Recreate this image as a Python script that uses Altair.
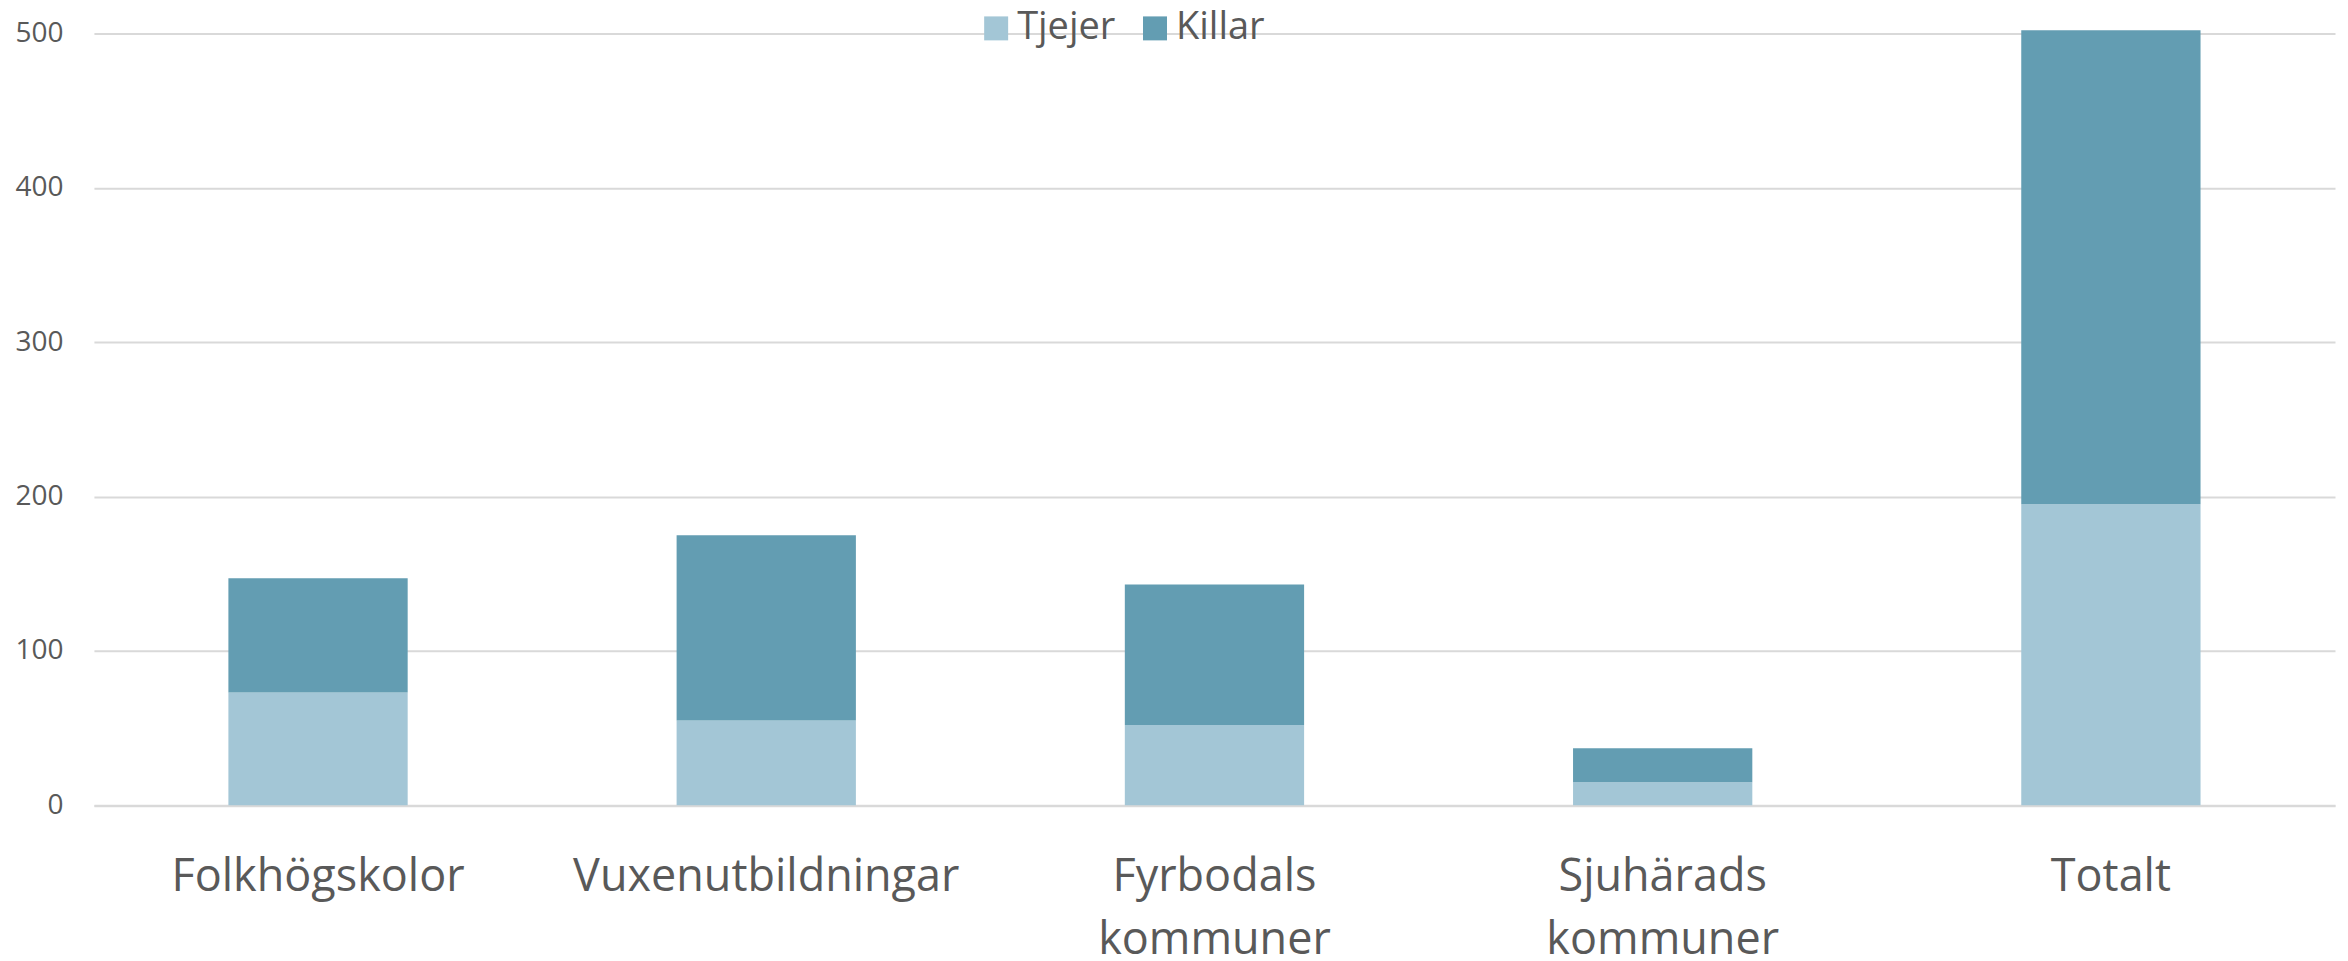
import altair as alt
import pandas as pd

categories = ["Folkhögskolor", "Vuxenutbildningar", "Fyrbodals\nkommuner", "Sjuhärads\nkommuner", "Totalt"]
series = ["Tjejer", "Killar"]
tjejer = [73, 55, 52, 15, 195]
killar = [74, 120, 91, 22, 307]
colors = ["#A3C6D6", "#639DB2"]
y_ticks = [0, 100, 200, 300, 400, 500]

rows = []
for c, t, k in zip(categories, tjejer, killar):
    rows.append({"kategori": c, "kon": "Tjejer", "antal": t, "ordning": 0})
    rows.append({"kategori": c, "kon": "Killar", "antal": k, "ordning": 1})
df = pd.DataFrame(rows)

FONT = "Open Sans"
GRAY = "#595959"

chart = alt.Chart(df).mark_bar(clip=False).encode(
    x=alt.X(
        "kategori:N",
        sort=categories,
        scale=alt.Scale(paddingInner=0.6, paddingOuter=0.3),
        axis=alt.Axis(
            title=None,
            labelAngle=0,
            labelFont=FONT,
            labelFontSize=45,
            labelColor=GRAY,
            labelPadding=49,
            labelLineHeight=63,
            labelLimit=1000,
            labelOverlap=False,
            labelExpr="split(datum.label, '\\n')",
            ticks=False,
            domainColor="#D9D9D9",
            domainWidth=2,
            grid=False,
        ),
    ),
    y=alt.Y(
        "antal:Q",
        stack="zero",
        scale=alt.Scale(domain=[0, 500], nice=False),
        axis=alt.Axis(
            title=None,
            values=y_ticks,
            labelFont=FONT,
            labelFontSize=28,
            labelColor=GRAY,
            labelPadding=31,
            ticks=False,
            domain=False,
            gridColor="#D9D9D9",
            gridWidth=2,
        ),
    ),
    color=alt.Color(
        "kon:N",
        scale=alt.Scale(domain=series, range=colors),
        legend=alt.Legend(
            title=None,
            orient="none",
            direction="horizontal",
            legendX=884,
            legendY=-24,
            symbolType="square",
            symbolSize=576,
            symbolStrokeWidth=0,
            labelFont=FONT,
            labelFontSize=38,
            labelColor=GRAY,
            labelOffset=2,
            columnPadding=20,
        ),
    ),
    order=alt.Order("ordning:Q", sort="ascending"),
).properties(
    width=2243,
    height=772.6,
    autosize=alt.AutoSizeParams(type="none"),
    padding={"left": 86, "top": 25, "right": 5, "bottom": 160},
).configure_view(stroke=None)

chart.save("out.html", embed_options={"renderer": "svg", "actions": False})
